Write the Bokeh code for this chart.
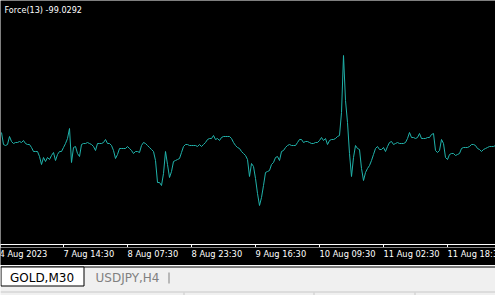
from bokeh.plotting import figure
from bokeh.models import Range1d, FixedTicker, Label, LabelSet, ColumnDataSource
from bokeh.layouts import column
from bokeh.core.properties import value
from bokeh.embed import file_html
from bokeh.resources import INLINE

# ---- data -------------------------------------------------------------
indicator_name = "Force"
period = 13

# Force index values (one per M30 bar, oldest first)
force_values = [
    550, -50, -100, -50, 350, 100, 0, 50, 50, 100,
    50, 150, 0, -50, -50, -200, -400, -400, -400, -650,
    -1050, -700, -900, -700, -800, -600, -450, -850, -550, -400,
    -400, -200, 0, 250, 750, -950, -200, -150, -500, -650,
    -50, 0, 0, 50, 0, -50, -150, -350, 0, 0,
    0, 50, 200, 0, 0, -100, -350, -750, -550, -250,
    -250, -250, -250, -150, -250, -350, -500, -400, -400, -450,
    -100, 50, 0, -100, -200, -300, -400, -850, -1950, -1950,
    -2100, -1500, -400, -1050, -1700, -1400, -900, -850, -800, -750,
    -450, -150, -50, -50, -100, -100, -100, -100, -150, -50,
    -150, -50, 50, 200, 250, 250, 400, 200, 250, 150,
    300, 350, 350, 350, 350, 250, 50, -100, -200, -250,
    -400, -500, -600, -800, -1650, -1000, -1150, -1750, -2500, -3100,
    -2700, -2100, -1450, -1400, -1350, -1050, -950, -700, -650, -850,
    -400, -350, -200, -100, -50, -100, -100, -100, 50, 200,
    200, 50, 100, 100, 50, 0, 0, 50, 50, 150,
    300, 150, 250, -50, 150, 200, 200, 250, 350, 400,
    1550, 4400, 2150, 1050, -500, -1650, -700, -100, -250, -300,
    -1250, -1850, -1450, -1250, -1100, -850, -550, -250, -150, -300,
    -300, -200, -400, -150, 50, 100, -50, 0, 50, 0,
    0, 0, 50, 250, 550, 300, 300, 250, 300, 500,
    250, 250, 250, 300, 300, 450, 500, -350, -450, -350,
    200, 0, -700, -800, -550, -500, -500, -600, -550, -500,
    -250, -200, -200, -200, -150, -50, -50, -100, -250, -300,
    -400, -300, -250, -200, -150, -150, -150, -99.0292,
]
bar_index = list(range(len(force_values)))

# time-axis labels (bar index -> label); the first one sits just off the left edge
tick_bars = [31, 63, 95, 127, 159, 191, 223]
tick_labels = ["7 Aug 14:30", "8 Aug 07:30", "8 Aug 23:30", "9 Aug 16:30",
               "10 Aug 09:30", "11 Aug 02:30", "11 Aug 18:30"]
first_label_bar = -1
first_label = "4 Aug 2023"

tabs = ["GOLD,M30", "USDJPY,H4"]

# ---- chart ------------------------------------------------------------
FONT = "DejaVu Sans"
SMALL = "8.3px"
LINE_COLOR = "#20B2AA"

p = figure(width=495, height=247, output_backend="svg", toolbar_location=None,
           x_range=Range1d(-0.5, 247.0), y_range=Range1d(-5050, 7150),
           y_axis_location=None, min_border_left=0, min_border_right=0,
           min_border_top=0, min_border_bottom=0)
p.background_fill_color = "black"
p.border_fill_color = "black"
p.outline_line_color = None
p.xgrid.visible = False
p.ygrid.visible = False

p.line(bar_index, force_values, line_color=LINE_COLOR, line_width=1)

ax = p.xaxis[0]
ax.ticker = FixedTicker(ticks=tick_bars)
ax.major_label_overrides = {b: "" for b in tick_bars}
ax.axis_line_color = "white"
ax.major_tick_line_color = "white"
ax.minor_tick_line_color = None
ax.major_tick_in = 0
ax.major_tick_out = 3
ax.major_label_standoff = 0
ax.major_label_text_font_size = "0px"

p.add_layout(Label(x=4, y=240, x_units="screen", y_units="screen",
                   text=f"{indicator_name}({period}) {force_values[-1]:.4f}",
                   text_baseline="top", text_align="left",
                   text_color="white", text_font=FONT, text_font_size="8.1px"))

# ---- time labels strip (shares the chart's x scale) -------------------
q = figure(width=495, height=18, output_backend="svg", toolbar_location=None,
           x_range=p.x_range, y_range=Range1d(18, 0),
           x_axis_location=None, y_axis_location=None, min_border=0)
q.background_fill_color = "black"
q.border_fill_color = "black"
q.outline_line_color = None
q.xgrid.visible = False
q.ygrid.visible = False
lab_src = ColumnDataSource(dict(x=[first_label_bar] + tick_bars,
                                y=[1.4] * (len(tick_bars) + 1),
                                text=[first_label] + tick_labels))
q.add_layout(LabelSet(x="x", y="y", text="text", source=lab_src,
                      text_align="left", text_baseline="top", text_color="white",
                      text_font=value(FONT), text_font_size=SMALL))

# ---- tab strip --------------------------------------------------------
t = figure(width=495, height=30, output_backend="svg", toolbar_location=None,
           x_range=Range1d(0, 495), y_range=Range1d(30, 0),
           x_axis_location=None, y_axis_location=None, min_border=0)
t.background_fill_color = "#f0f0f0"
t.border_fill_color = "#f0f0f0"
t.outline_line_color = None
t.xgrid.visible = False
t.ygrid.visible = False

t.quad(left=[0], right=[495], top=[0], bottom=[1], fill_color="white", line_color=None)
t.quad(left=[0], right=[495], top=[1], bottom=[2], fill_color="black", line_color=None)
t.quad(left=[0.5], right=[83.5], top=[1.5], bottom=[20.5], fill_color="white",
       line_color="black", line_width=1)
t.text(x=[41.5], y=[12], text=[tabs[0]], text_align="center", text_baseline="middle",
       text_color="black", text_font=value(FONT), text_font_size="12px")
t.text(x=[95], y=[12], text=[tabs[1]], text_align="left", text_baseline="middle",
       text_color="#808080", text_font=value(FONT), text_font_size="12px")
t.segment(x0=[168.5], y0=[7], x1=[168.5], y1=[18], line_color="#808080", line_width=1)
t.segment(x0=[0], y0=[26.5], x1=[495], y1=[26.5], line_color="#c8c8c8", line_width=1)
t.segment(x0=[183.5, 313.5, 414.5], y0=[27, 27, 27], x1=[183.5, 313.5, 414.5],
          y1=[30, 30, 30], line_color="#c8c8c8", line_width=1)

layout = column(p, q, t, spacing=0)
open("out.html", "w").write(file_html(layout, INLINE))
